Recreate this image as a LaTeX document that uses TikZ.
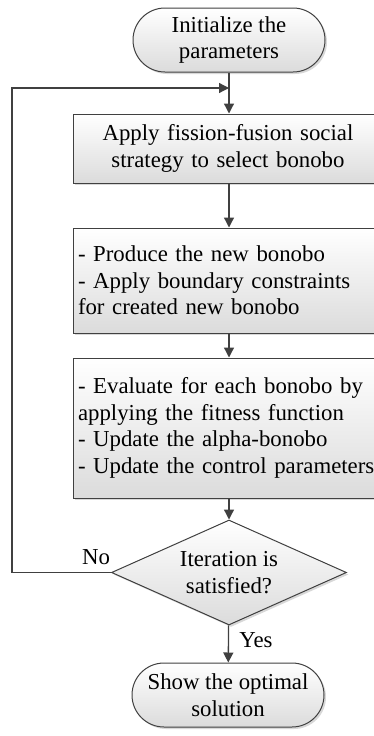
\documentclass[tikz,border=0pt]{standalone}
\usepackage{fontspec}
\setmainfont{Liberation Serif}
\usetikzlibrary{arrows.meta,shapes.geometric,shadows}

\definecolor{linegray}{rgb}{0.25,0.25,0.25}
\definecolor{boxgray}{rgb}{0.86,0.86,0.86}

\begin{document}
\begin{tikzpicture}[x=1pt,y=-1pt,line width=1.3pt,
  font=\fontsize{22.8}{26.5}\selectfont,
  shaded/.style={draw=linegray,line width=1pt,top color=white,bottom color=boxgray,
    drop shadow={shadow xshift=2pt,shadow yshift=-2pt,fill=gray!60}},
  terminal/.style={shaded,rectangle,rounded corners=32pt,minimum width=192pt,minimum height=64pt,
    align=center,inner sep=0pt},
  process/.style={shaded,rectangle,text width=300pt,inner xsep=5pt,inner ysep=0pt},
  decision/.style={shaded,diamond,aspect=2.24,minimum width=235pt,minimum height=105pt,
    align=center,inner sep=0pt},
  arr/.style={draw=linegray,-{Triangle[length=10pt,width=10pt]}}]

\useasboundingbox (0,0) rectangle (374,736);

\node[terminal] (start) at (229,40) {Initialize the\\parameters};
\node[process,minimum height=69pt,align=center] (select) at (228,148.5)
  {Apply fission-fusion social\\strategy to select bonobo};
\node[process,minimum height=105pt,align=left] (produce) at (228,280.5)
  {- Produce the new bonobo\\- Apply boundary constraints\\for created new bonobo};
\node[process,minimum height=140pt,align=left] (evaluate) at (228,428)
  {- Evaluate for each bonobo by\\applying the fitness function\\- Update the alpha-bonobo\\- Update the control parameters};
\node[decision] (check) at (229,572.5) {Iteration is\\satisfied?};
\node[terminal] (stop) at (228,695) {Show the optimal\\solution};

\coordinate (join) at (229,88);
\coordinate (corner) at (12,88);

\draw[arr] (start) -- (select.north -| start);
\draw[arr] (select.south -| start) -- (produce.north -| start);
\draw[arr] (produce.south -| start) -- (evaluate.north -| start);
\draw[arr] (evaluate.south -| start) -- (check);
\draw[arr] (check) -- (stop);
\draw[arr] (check.west) -| (corner) -- (join);

\node (no) at (96,557) {No};
\node (yes) at (256,640) {Yes};

\end{tikzpicture}
\end{document}
